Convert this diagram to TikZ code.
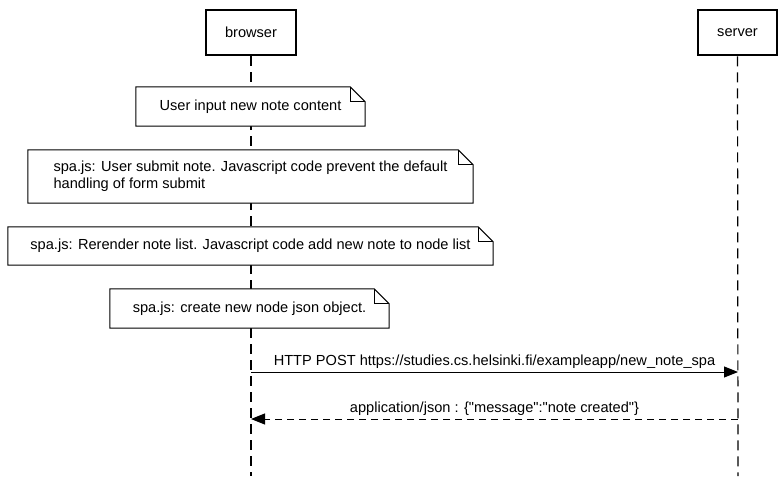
\documentclass[tikz,border=0pt]{standalone}
\usepackage{fontspec}
\setmainfont{Liberation Sans}
\usetikzlibrary{arrows.meta}
\begin{document}
\begin{tikzpicture}[x=1pt,y=-1pt,
  every node/.style={font=\fontsize{14.6}{17}\selectfont},
  actor/.style={draw,line width=2.6pt,minimum width=90pt,minimum height=45pt,inner sep=0},
  lifeline/.style={line width=1.2pt,dash pattern=on 10pt off 6pt},
  notebox/.style={inner sep=0,minimum height=#1},
  notebord/.style={line width=1pt},
  msg/.style={line width=1pt,-{Triangle[length=14pt,width=11pt]}},
  ret/.style={line width=1pt,dash pattern=on 7pt off 5pt,-{Triangle[length=14pt,width=11pt]}}]
\path[use as bounding box,fill=white] (0,0) rectangle (783,476);
\newcommand\notefold[1]{%
  \draw[notebord,fill=white] (#1.north west) -- ([xshift=-15pt]#1.north east) -- ([yshift=-15pt]#1.north east) -- (#1.south east) -- (#1.south west) -- cycle;
  \draw[notebord] ([xshift=-15pt]#1.north east) |- ([yshift=-15pt]#1.north east);}

\node[actor] (browser) at (251,32.5) {browser};
\node[actor,minimum width=79pt] (server) at (737.5,32.5) {server};
\coordinate (bend) at (251,476);
\coordinate (send) at (738,476);
\draw[lifeline] (browser.south) -- (bend);
\draw[lifeline] (server.south) -- (send);

\node[notebox=39pt,minimum width=229pt] (n1) at (250.5,106.5) {};
\notefold{n1}
\node at (n1.center) {User input new note content};

\node[notebox=53pt,minimum width=445pt] (n2) at (250.5,176.5) {};
\notefold{n2}
\node[align=left] at (n2.center) {spa.js: User submit note. Javascript code prevent the default\\handling of form submit};

\node[notebox=38pt,minimum width=485pt] (n3) at (250.5,246) {};
\notefold{n3}
\node at (n3.center) {spa.js: Rerender note list. Javascript code add new note to node list};

\node[notebox=39pt,minimum width=279pt] (n4) at (249.5,308.5) {};
\notefold{n4}
\node at (n4.center) {spa.js: create new node json object.};

\coordinate (p1) at (251,372);
\coordinate (p2) at (738,372);
\draw[msg] (p1) -- node[above=0pt] {HTTP POST https://studies.cs.helsinki.fi/exampleapp/new\_note\_spa} (p2);
\coordinate (r1) at (738,419);
\coordinate (r2) at (251,419);
\draw[ret] (r1) -- node[above=0pt] {application/json : \{\textquotedbl message\textquotedbl:\textquotedbl note created\textquotedbl\}} (r2);
\end{tikzpicture}
\end{document}
